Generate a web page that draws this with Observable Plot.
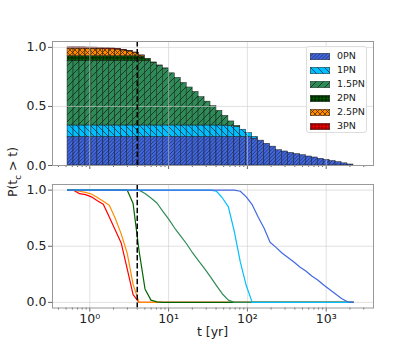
<!DOCTYPE html>
<html><head><meta charset="utf-8">
<script src="https://cdn.jsdelivr.net/npm/d3@7"></script>
<script src="https://cdn.jsdelivr.net/npm/@observablehq/plot@0.6"></script>
<style>
body{margin:0;background:#fff;}
#fig{position:relative;width:415px;height:346px;font-family:"DejaVu Sans",sans-serif;color:#222;overflow:hidden;}
#fig > svg{position:absolute;left:0;}
.lbl{position:absolute;font-size:12.5px;white-space:nowrap;color:#222;}
#legend{position:absolute;left:306px;top:46px;width:61px;height:87px;border:1px solid #ddd;border-radius:3px;background:rgba(255,255,255,0.85);box-sizing:border-box;}
#legend .row{position:absolute;left:0;height:14px;font-size:9.5px;line-height:14px;}
#legend svg{position:absolute;left:3px;top:3.7px;}
#legend span{position:absolute;left:30px;top:0;}
</style></head><body>
<svg width="0" height="0" style="position:absolute">
<defs>
  <pattern id="h0" patternUnits="userSpaceOnUse" width="3.6" height="3.6">
    <rect width="3.6" height="3.6" fill="#4169E1"/>
    <path d="M-1,1 L1,-1 M0,3.6 L3.6,0 M2.6,4.6 L4.6,2.6" stroke="#101030" stroke-width="0.6"/>
  </pattern>
  <pattern id="h1" patternUnits="userSpaceOnUse" width="7" height="7">
    <rect width="7" height="7" fill="#00BFFF"/>
    <path d="M-1,6 L1,8 M0,0 L7,7 M6,-1 L8,1" stroke="#102030" stroke-width="0.7"/>
  </pattern>
  <pattern id="h15" patternUnits="userSpaceOnUse" width="7" height="7">
    <rect width="7" height="7" fill="#2E8B57"/>
    <path d="M-1,1 L1,-1 M0,7 L7,0 M6,8 L8,6" stroke="#0a1a10" stroke-width="0.7"/>
  </pattern>
  <pattern id="h2" patternUnits="userSpaceOnUse" width="3.5" height="3.5">
    <rect width="3.5" height="3.5" fill="#006400"/>
    <path d="M1.75,0 V3.5 M0,1.75 H3.5" stroke="#000" stroke-width="0.7"/>
  </pattern>
  <pattern id="h25" patternUnits="userSpaceOnUse" width="5" height="5">
    <rect width="5" height="5" fill="#FF8C00"/>
    <path d="M0,0 L5,5 M0,5 L5,0" stroke="#402000" stroke-width="0.7"/>
  </pattern>
  <pattern id="h3" patternUnits="userSpaceOnUse" width="3.5" height="3.5">
    <rect width="3.5" height="3.5" fill="#FF0000"/>
    <path d="M1.75,0 V3.5 M0,1.75 H3.5" stroke="#500000" stroke-width="0.7"/>
  </pattern>
</defs>
</svg>
<div id="fig"></div>
<script>
// ---- data ----
const seriesNames = ["0PN", "1PN", "1.5PN", "2PN", "2.5PN", "3PN"];
const seriesColors = ["#4169E1", "#00BFFF", "#2E8B57", "#006400", "#FF8C00", "#FF0000"];
const patternIds = ["h0", "h1", "h15", "h2", "h25", "h3"];
// fraction of systems in each PN order (layer thickness in top panel)
const weights = [0.242, 0.097, 0.545, 0.042, 0.064, 0.010];
// log-spaced histogram bin edges, t [yr]
const edges = [0.522, 0.622, 0.740, 0.880, 1.048, 1.247, 1.484, 1.767, 2.102, 2.502,
  2.978, 3.544, 4.217, 5.018, 5.972, 7.108, 8.459, 10.07, 11.98, 14.26,
  16.97, 20.20, 24.03, 28.60, 34.03, 40.50, 48.20, 57.37, 68.27, 81.24,
  96.69, 115.1, 136.9, 163.0, 194.0, 230.8, 274.7, 326.9, 389.0, 463.0,
  551.0, 655.7, 780.4, 928.7, 1105, 1315, 1565, 1863, 2217];
// P(t_c > t) at each edge
const p0PN = [1,1,1,1,1,1,1,1,1,1, 1,1,1,1,1,1,1,1,1,1, 1,1,1,1,1,1,1,1,1,0.99,
  0.94,0.87,0.76,0.66,0.535,0.49,0.44,0.40,0.36,0.315,
  0.28,0.235,0.20,0.155,0.115,0.075,0.035,0.005,0];
const p1PN = [1,1,1,1,1,1,1,1,1,1, 1,1,1,1,1,1,1,1,1,1, 1,1,1,1,1,0.99,0.93,0.85,0.63,0.36,
  0.15,0,0,0,0,0,0,0,0,0, 0,0,0,0,0,0,0,0,0];
const p15PN = [1,1,1,1,1,1,1,1,1,1, 1,1,1,0.97,0.93,0.885,0.81,0.74,0.66,0.59,
  0.52,0.44,0.37,0.30,0.227,0.15,0.075,0.02,0,0, 0,0,0,0,0,0,0,0,0,0, 0,0,0,0,0,0,0,0,0];
const p2PN = [1,1,1,1,1,1,1,1,1,1, 1,0.88,0.46,0.12,0.02,0.005,0,0,0,0,
  0,0,0,0,0,0,0,0,0,0, 0,0,0,0,0,0,0,0,0,0, 0,0,0,0,0,0,0,0,0];
const p25PN = [1,1,0.99,0.98,0.965,0.935,0.90,0.865,0.75,0.61, 0.44,0.16,0,0,0,0,0,0,0,0,
  0,0,0,0,0,0,0,0,0,0, 0,0,0,0,0,0,0,0,0,0, 0,0,0,0,0,0,0,0,0];
const p3PN = [1,1,0.968,0.96,0.94,0.905,0.875,0.76,0.645,0.53, 0.30,0.07,0,0,0,0,0,0,0,0,
  0,0,0,0,0,0,0,0,0,0, 0,0,0,0,0,0,0,0,0,0, 0,0,0,0,0,0,0,0,0];
const probs = [p0PN, p1PN, p15PN, p2PN, p25PN, p3PN];
const tMark = 4;
const majorTicks = [1, 10, 100, 1000];
const majorLabels = ["10⁰", "10¹", "10²", "10³"];
const minorTicks = [0.4,0.5,0.6,0.7,0.8,0.9, 2,3,4,5,6,7,8,9, 20,30,40,50,60,70,80,90,
  200,300,400,500,600,700,800,900, 2000,3000];
const yTicks = [0, 0.5, 1];
const yTickLabels = ["0.0", "0.5", "1.0"];
const xLabel = "t [yr]";

// ---- tables ----
const barRows = [];
seriesNames.forEach((s, i) => {
  for (let k = 0; k < edges.length - 1; k++) {
    barRows.push({s, x1: edges[k], x2: edges[k + 1], v: weights[i] * probs[i][Math.max(k - 1, 0)]});
  }
});
const lineRows = seriesNames.map((s, i) => edges.map((t, k) => ({s, t, p: probs[i][k]})));

const xDomain = [0.3362, 3984];
const style = {fontFamily: "DejaVu Sans", fontSize: "12.5px", color: "#222", background: "transparent", overflow: "visible"};
const gridStyle = {stroke: "#cfcfcf", strokeOpacity: 0.7, strokeWidth: 0.9};
const fig = document.getElementById("fig");
const yFmt = d => yTickLabels[yTicks.indexOf(d)];
const xFmt = d => majorLabels[majorTicks.indexOf(d)];
const axisText = {fontSize: 12.5, fill: "#222"};

const topPlot = Plot.plot({
  width: 415, height: 175,
  marginLeft: 52, marginRight: 42, marginTop: 41, marginBottom: 10,
  style,
  x: {type: "log", domain: xDomain, label: null},
  y: {domain: [0, 1.05], label: null},
  color: {type: "ordinal", domain: seriesNames, range: patternIds.map(id => `url(#${id})`)},
  marks: [
    Plot.rectY(barRows, {x1: "x1", x2: "x2", y: "v", fill: "s", stroke: "#1a1a1a", strokeWidth: 0.5}),
    Plot.gridX(majorTicks, gridStyle),
    Plot.gridY(yTicks, gridStyle),
    Plot.ruleX([tMark], {stroke: "black", strokeWidth: 1.5, strokeDasharray: "5.5,2.4"}),
    Plot.axisX(majorTicks, {tickSize: 4, tickFormat: () => "", stroke: "#666", label: null}),
    Plot.axisX(minorTicks, {tickSize: 2, tickFormat: () => "", stroke: "#666", label: null}),
    Plot.axisY(yTicks, {tickSize: 4, tickPadding: 2, tickFormat: yFmt, stroke: "#666", label: null, ...axisText}),
    Plot.frame({stroke: "#999"})
  ]
});
topPlot.style.top = "0px";
fig.appendChild(topPlot);

const lineMarks = [];
for (let i = seriesNames.length - 1; i >= 0; i--) {
  lineMarks.push(Plot.line(lineRows[i], {x: "t", y: "p", stroke: seriesColors[i], strokeWidth: 1.2}));
}
const botPlot = Plot.plot({
  width: 415, height: 171,
  marginLeft: 52, marginRight: 42, marginTop: 9, marginBottom: 38.5,
  style,
  x: {type: "log", domain: xDomain, label: null},
  y: {domain: [-0.05, 1.05], label: null},
  marks: [
    Plot.gridX(majorTicks, gridStyle),
    Plot.gridY(yTicks, gridStyle),
    ...lineMarks,
    Plot.ruleX([tMark], {stroke: "black", strokeWidth: 1.5, strokeDasharray: "5.5,2.4"}),
    Plot.axisX(majorTicks, {tickSize: 4, tickPadding: 2, tickFormat: xFmt, stroke: "#666", label: null, ...axisText}),
    Plot.axisX(minorTicks, {tickSize: 2, tickFormat: () => "", stroke: "#666", label: null}),
    Plot.axisY(yTicks, {tickSize: 4, tickPadding: 2, tickFormat: yFmt, stroke: "#666", label: null, ...axisText}),
    Plot.frame({stroke: "#999"})
  ]
});
botPlot.style.top = "175px";
fig.appendChild(botPlot);

// axis labels
const yl = document.createElement("div");
yl.className = "lbl";
yl.innerHTML = "P(t<sub style='font-size:8.5px'>c</sub> &gt; t)";
yl.style.left = "14px"; yl.style.top = "172px";
yl.style.transform = "translate(-50%,-50%) rotate(-90deg)";
fig.appendChild(yl);
const xl = document.createElement("div");
xl.className = "lbl";
xl.textContent = xLabel;
xl.style.left = "212.5px"; xl.style.top = "324px";
xl.style.transform = "translateX(-50%)";
fig.appendChild(xl);

// legend
const leg = document.createElement("div");
leg.id = "legend";
seriesNames.forEach((s, i) => {
  const row = document.createElement("div");
  row.className = "row";
  row.style.top = (2 + 14 * i) + "px";
  row.innerHTML = `<svg width="20" height="7"><rect x="0.25" y="0.25" width="19.5" height="6.5" fill="url(#${patternIds[i]})" stroke="#222" stroke-width="0.5"/></svg><span>${s}</span>`;
  leg.appendChild(row);
});
fig.appendChild(leg);
</script>
</body></html>
